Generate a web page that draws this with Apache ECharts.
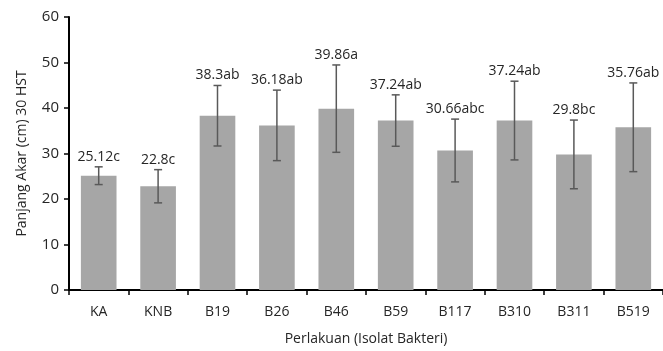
<!DOCTYPE html>
<html>
<head>
<meta charset="utf-8">
<script src="https://cdn.jsdelivr.net/npm/echarts@6/dist/echarts.min.js"></script>
<style>
  html, body { margin: 0; padding: 0; background: #fff; }
  #chart { width: 663px; height: 351px; }
</style>
</head>
<body>
<div id="chart"></div>
<script>
var categories = ['KA', 'KNB', 'B19', 'B26', 'B46', 'B59', 'B117', 'B310', 'B311', 'B519'];
var means = [25.12, 22.8, 38.3, 36.18, 39.86, 37.24, 30.66, 37.24, 29.8, 35.76];
var errors = [1.95, 3.65, 6.65, 7.75, 9.6, 5.65, 6.9, 8.65, 7.55, 9.75];
var notations = ['c', 'c', 'ab', 'ab', 'a', 'ab', 'abc', 'ab', 'bc', 'ab'];
var yTicks = [0, 10, 20, 30, 40, 50, 60];

var textColor = '#262626';
var font = '"Open Sans", sans-serif';

var errData = means.map(function (m, i) {
    return [i, m - errors[i], m + errors[i]];
});

function renderError(params, api) {
    var i = api.value(0);
    var lo = api.coord([i, api.value(1)]);
    var hi = api.coord([i, api.value(2)]);
    var cap = 4;
    var style = { stroke: '#595959', lineWidth: 1.5 };
    return {
        type: 'group',
        children: [
            { type: 'line', shape: { x1: hi[0], y1: hi[1], x2: lo[0], y2: lo[1] }, style: style },
            { type: 'line', shape: { x1: hi[0] - cap, y1: hi[1], x2: hi[0] + cap, y2: hi[1] }, style: style },
            { type: 'line', shape: { x1: lo[0] - cap, y1: lo[1], x2: lo[0] + cap, y2: lo[1] }, style: style },
            {
                type: 'text',
                x: hi[0],
                y: hi[1] - 3,
                style: {
                    text: means[i] + notations[i],
                    align: 'center',
                    verticalAlign: 'bottom',
                    fill: textColor,
                    font: '14px ' + font
                }
            }
        ]
    };
}

var myChart = echarts.init(document.getElementById('chart'));

var option = {
    animation: false,
    grid: {
        left: 69,
        right: -6,
        top: 17,
        bottom: 59
    },
    xAxis: {
        type: 'category',
        data: categories,
        name: 'Perlakuan (Isolat Bakteri)',
        nameLocation: 'middle',
        nameGap: 42,
        nameTextStyle: { color: textColor, fontSize: 14, fontFamily: font },
        axisLine: { lineStyle: { color: '#000', width: 2 } },
        axisTick: { show: true, length: 5, lineStyle: { color: '#000', width: 1.5 } },
        axisLabel: { color: textColor, fontSize: 14, fontFamily: font, margin: 15 }
    },
    yAxis: {
        type: 'value',
        min: yTicks[0],
        max: yTicks[yTicks.length - 1],
        interval: 10,
        name: 'Panjang Akar (cm) 30 HST',
        nameLocation: 'middle',
        nameGap: 40,
        nameTextStyle: { color: textColor, fontSize: 14, fontFamily: font },
        axisLine: { show: true, lineStyle: { color: '#000', width: 2 } },
        axisTick: { show: true, length: 5, lineStyle: { color: '#000', width: 1.5 } },
        axisLabel: { color: textColor, fontSize: 15, fontFamily: font, margin: 10 },
        splitLine: { show: false }
    },
    series: [
        {
            type: 'bar',
            data: means,
            barWidth: '60%',
            itemStyle: { color: '#a6a6a6' }
        },
        {
            type: 'custom',
            renderItem: renderError,
            data: errData,
            z: 5
        }
    ]
};

myChart.setOption(option);
</script>
</body>
</html>
